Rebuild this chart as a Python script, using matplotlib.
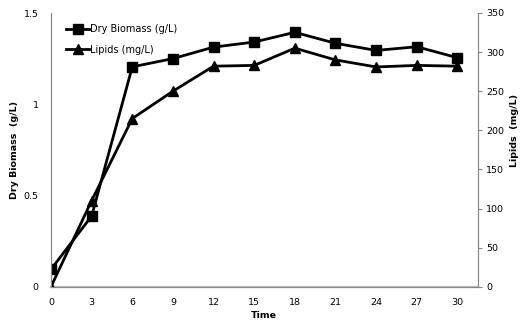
import matplotlib
matplotlib.use("Agg")
import matplotlib.pyplot as plt

time = [0, 3, 6, 9, 12, 15, 18, 21, 24, 27, 30]
biomass = [0.095, 0.387, 1.205, 1.25, 1.313, 1.341, 1.394, 1.334, 1.295, 1.315, 1.255]
lipids = [0, 110, 215, 250, 282, 283, 305, 290, 281, 283, 282]

plt.rcParams['font.family'] = ['DejaVu Sans']
grey = '#888888'

fig = plt.figure(figsize=(5.22, 3.25), dpi=100)
ax = fig.add_axes([51 / 522, 1 - 286.7 / 325, (477.7 - 51) / 522, (286.7 - 13) / 325])
ax2 = ax.twinx()

l1, = ax.plot(time, biomass, color='black', lw=2, marker='s', ms=6.5, label='Dry Biomass (g/L)')
l2, = ax2.plot(time, lipids, color='black', lw=2, marker='^', ms=6.5, label='Lipids (mg/L)')

ax.set_xlim(0, 31.5)
ax.set_ylim(0, 1.5)
ax2.set_ylim(0, 350)
ax.set_xticks(time)
ax.set_yticks([0, 0.5, 1, 1.5])
ax.set_yticklabels(['0', '0.5', '1', '1.5'])
ax2.set_yticks(range(0, 351, 50))

for a in (ax, ax2):
    a.spines['top'].set_visible(False)
    for s in ('left', 'right', 'bottom'):
        a.spines[s].set_color(grey)
        a.spines[s].set_linewidth(0.8)
ax.spines['bottom'].set_linewidth(1.6)
ax.spines['bottom'].set_color('#bbbbbb')
ax.tick_params(axis='y', length=0, labelsize=6.8, pad=9)
ax.tick_params(axis='x', length=0, labelsize=6.8, pad=8)
ax2.tick_params(axis='y', length=3, color=grey, labelsize=6.8, pad=3)

ax.set_xlabel('Time', fontsize=6.8, fontweight='bold')
ax.xaxis.set_label_coords(0.5, -0.088)
ax.set_ylabel('Dry Biomass  (g/L)', fontsize=6.8, fontweight='bold')
ax.yaxis.set_label_coords(-0.076, 0.5)
ax2.set_ylabel('Lipids  (mg/L)', fontsize=6.8, fontweight='bold')
ax2.yaxis.set_label_coords(1.076, 0.57)

ax2.legend(handles=[l1, l2], loc='upper left', bbox_to_anchor=(0.015, 0.99),
           frameon=False, fontsize=7, handlelength=2.4, handletextpad=0.1,
           labelspacing=1.05)

fig.savefig('out.png', dpi=100)
